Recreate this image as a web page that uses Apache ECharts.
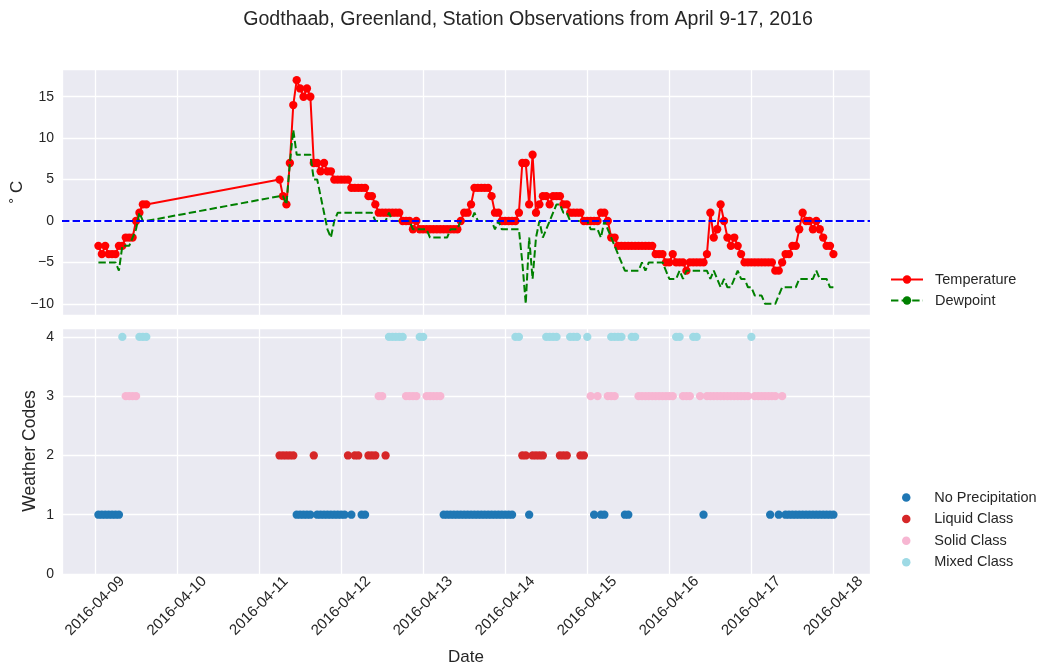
<!DOCTYPE html>
<html>
<head>
<meta charset="utf-8">
<title>Godthaab station observations</title>
<script src="https://cdn.jsdelivr.net/npm/echarts@6/dist/echarts.min.js"></script>
<style>
  html, body { margin: 0; padding: 0; background: #ffffff; }
  #chart { width: 1038px; height: 666px; }
</style>
</head>
<body>
<div id="chart"></div>
<script>
// observation blocks: [first hour, last hour] counted from 2016-04-09 00:00 UTC, hourly reports
const hourBlocks = [[1, 15], [54, 216]];

// air temperature, deg C
const temperature = [
  -3, -4, -3, -4, -4, -4, -3, -3, -2, -2, -2, 0, 1, 2, 2,
  5, 3, 2, 7, 14, 17, 16, 15, 16, 15,
  7, 7, 6, 7, 6, 6, 5, 5, 5, 5,
  5, 4, 4, 4, 4, 4, 3, 3, 2, 1,
  1, 1, 1, 1, 1, 1, 0, 0, 0, -1,
  0, -1, -1, -1, -1, -1, -1, -1, -1, -1,
  -1, -1, -1, 0, 1, 1, 2, 4, 4, 4,
  4, 4, 3, 1, 1, 0, 0, 0, 0, 0,
  1, 7, 7, 2, 8, 1, 2, 3, 3, 2,
  3, 3, 3, 2, 2, 1, 1, 1, 1, 0,
  0, 0, 0, 0, 1, 1, 0, -2, -2, -3,
  -3, -3, -3, -3, -3, -3, -3, -3, -3, -3,
  -4, -4, -4, -5, -5, -4, -5, -5, -5, -6,
  -5, -5, -5, -5, -5, -4, 1, -2, -1, 2,
  0, -2, -3, -2, -3, -4, -5, -5, -5, -5,
  -5, -5, -5, -5, -5, -6, -6, -5, -4, -4,
  -3, -3, -1, 1, 0, 0, -1, 0, -1, -2,
  -3, -3, -4
];

// dewpoint, deg C
const dewpoint = [
  -5, -5, -5, -5, -5, -5, -6, -3, -3, -3, -2, -1, 1, 0, 0,
  3, 3, 2, 7, 11, 8, 8, 8, 8, 8,
  5, 5, 3, 1, -1, -2, 0, 1, 1, 1,
  1, 1, 1, 1, 1, 1, 1, 1, 0, 0,
  0, 0, 1, 0, 0, 0, 0, 0, 0, -1,
  -1, -1, -1, -1, -2, -2, -2, -2, -2, -2,
  -1, -1, -1, 0, 0, 0, 0, 1, 0, 0,
  0, 0, 0, -1, 0, -1, -1, -1, -1, -1,
  -1, -5, -10, -2, -7, -2, 0, -2, -1, 0,
  1, 2, 2, 1, 1, 0, 0, 0, 0, 0,
  0, -1, -1, -1, -2, 0, -1, -2, -3, -4,
  -5, -6, -6, -6, -6, -6, -5, -6, -5, -5,
  -5, -5, -5, -6, -7, -7, -7, -6, -7, -6,
  -6, -6, -6, -6, -6, -6, -7, -6, -7, -8,
  -7, -8, -8, -7, -6, -7, -7, -8, -8, -9,
  -9, -9, -10, -10, -10, -10, -9, -8, -8, -8,
  -8, -8, -7, -7, -7, -7, -7, -6, -7, -7,
  -7, -8, -8
];

// report hours (from 2016-04-09 00:00) for each present-weather class
const noPrecipHours = [
  1, 2, 3, 4, 5, 6, 7,
  59, 60, 61, 62, 63, 65, 66, 67, 68, 69, 70, 71, 72, 73, 75, 78, 79,
  102, 103, 104, 105, 106, 107, 108, 109, 110, 111, 112, 113, 114, 115, 116, 117, 118, 119, 120, 121, 122,
  127, 146, 148, 149, 155, 156, 178, 197.5, 200,
  202, 203, 204, 205, 206, 207, 208, 209, 210, 211, 212, 213, 214, 215, 216
];
const liquidHours = [
  54, 55, 56, 57, 58, 64, 74, 76, 77, 80, 81, 82, 85,
  125, 126, 128, 129, 130, 131, 136, 137, 138, 142, 143
];
const solidHours = [
  9, 10, 11, 12, 83, 84, 91, 92, 93, 94, 97, 98, 99, 100, 101,
  145, 147, 150, 151, 152,
  159, 160, 161, 162, 163, 164, 165, 166, 167, 168, 169, 172, 173, 174, 177,
  179, 180, 181, 182, 183, 184, 185, 186, 187, 188, 189, 190, 191,
  193, 194, 195, 196, 197, 198, 199, 201
];
const mixedHours = [
  8, 13, 14, 15, 86, 87, 88, 89, 90, 95, 96, 123, 124,
  132, 133, 134, 135, 139, 140, 141, 144, 151, 152, 153, 154, 157, 158,
  170, 171, 175, 176, 192
];

const codeNames = ['No Precipitation', 'Liquid Class', 'Solid Class', 'Mixed Class'];
const codeHours = [noPrecipHours, liquidHours, solidHours, mixedHours];
const codeColors = ['#1f77b4', '#d62728', '#f7b6d2', '#9edae5'];

const HOUR = 3600 * 1000;
const DAY = 24 * HOUR;
const t0 = Date.UTC(2016, 3, 9);

const obsTimes = [];
hourBlocks.forEach(([a, b]) => {
  for (let h = a; h <= b; h++) obsTimes.push(t0 + h * HOUR);
});

const tempData = obsTimes.map((t, i) => [t, temperature[i]]);
const dewData = obsTimes.map((t, i) => [t, dewpoint[i]]);

const xMin = t0 - 9.65 * HOUR;
const xMax = t0 + 226.7 * HOUR;

const ink = '#262626';
const font = 'Liberation Sans, Arial, sans-serif';

function dateLabel(v) {
  if ((v - t0) % DAY !== 0) return '';
  const d = new Date(v);
  const p = n => String(n).padStart(2, '0');
  return d.getUTCFullYear() + '-' + p(d.getUTCMonth() + 1) + '-' + p(d.getUTCDate());
}

function minusSign(v) {
  return String(v).replace('-', '\u2212');
}

const xBase = {
  type: 'time',
  min: xMin,
  max: xMax,
  minInterval: DAY,
  maxInterval: DAY,
  axisLine: { show: false },
  axisTick: { show: false },
  splitLine: { show: true, lineStyle: { color: '#ffffff', width: 1.3 } }
};

const legendText = {
  fontFamily: font,
  fontSize: 14.5,
  lineHeight: 15,
  color: ink,
  padding: [0, 0, 0, 7],
  width: 60,
  overflow: 'none'
};

const scatterSeries = codeNames.map((name, k) => ({
  name: name,
  type: 'scatter',
  xAxisIndex: 1,
  yAxisIndex: 1,
  symbolSize: 8.3,
  itemStyle: { color: codeColors[k], opacity: 1 },
  data: codeHours[k].map(h => [t0 + h * HOUR, k + 1])
}));

const chart = echarts.init(document.getElementById('chart'), null, { renderer: 'canvas' });

chart.setOption({
  animation: false,
  useUTC: true,
  backgroundColor: '#ffffff',
  textStyle: { fontFamily: font, color: ink },
  title: {
    text: 'Godthaab, Greenland, Station Observations from April 9-17, 2016',
    left: 523,
    top: 5,
    textAlign: 'center',
    textStyle: { fontFamily: font, fontSize: 19.6, fontWeight: 'normal', color: ink }
  },
  legend: [
    {
      data: ['Temperature', 'Dewpoint'],
      orient: 'vertical',
      left: 890,
      top: 272,
      padding: 0,
      itemWidth: 32,
      itemHeight: 10.5,
      itemGap: 6,
      textStyle: legendText
    },
    {
      data: codeNames,
      orient: 'vertical',
      left: 902,
      top: 490,
      padding: 0,
      icon: 'circle',
      itemWidth: 32,
      itemHeight: 8.5,
      itemGap: 6.6,
      textStyle: legendText
    }
  ],
  grid: [
    { left: 62, right: 168, top: 69, height: 246, show: true, backgroundColor: '#EAEAF2', borderWidth: 0, outerBoundsMode: 'none', containLabel: false },
    { left: 62, right: 168, top: 328, height: 246, show: true, backgroundColor: '#EAEAF2', borderWidth: 0, outerBoundsMode: 'none', containLabel: false }
  ],
  xAxis: [
    Object.assign({ gridIndex: 0, axisLabel: { show: false } }, xBase),
    Object.assign({
      gridIndex: 1,
      name: 'Date',
      nameLocation: 'middle',
      nameGap: 74.5,
      nameMoveOverlap: false,
      nameTextStyle: { fontFamily: font, fontSize: 17, color: ink },
      axisLabel: {
        rotate: 45,
        align: 'center',
        verticalAlign: 'middle',
        margin: 32,
        fontSize: 15,
        color: ink,
        showMinLabel: false,
        showMaxLabel: false,
        formatter: dateLabel
      }
    }, xBase)
  ],
  yAxis: [
    {
      gridIndex: 0,
      type: 'value',
      min: -11.35,
      max: 18.35,
      name: '\u02da C',
      nameLocation: 'middle',
      nameRotate: 90,
      nameGap: 36,
      nameMoveOverlap: false,
      nameTextStyle: { fontFamily: font, fontSize: 17, color: ink },
      axisLine: { show: false },
      axisTick: { show: false },
      splitLine: { lineStyle: { color: '#ffffff', width: 1.3 } },
      axisLabel: {
        margin: 8,
        fontSize: 14,
        color: ink,
        formatter: v => (Math.abs(v % 5) < 1e-9 ? minusSign(v) : '')
      }
    },
    {
      gridIndex: 1,
      type: 'value',
      min: 0,
      max: 4.15,
      interval: 1,
      name: 'Weather Codes',
      nameLocation: 'middle',
      nameRotate: 90,
      nameGap: 23,
      nameMoveOverlap: false,
      nameTextStyle: { fontFamily: font, fontSize: 17.5, color: ink },
      axisLine: { show: false },
      axisTick: { show: false },
      splitLine: { lineStyle: { color: '#ffffff', width: 1.3 } },
      axisLabel: {
        margin: 8,
        fontSize: 14,
        color: ink,
        formatter: v => (Number.isInteger(v) ? String(v) : '')
      }
    }
  ],
  series: [
    {
      name: 'Temperature',
      type: 'line',
      xAxisIndex: 0,
      yAxisIndex: 0,
      z: 2,
      symbol: 'circle',
      symbolSize: 8.3,
      showAllSymbol: true,
      itemStyle: { color: '#ff0000' },
      lineStyle: { color: '#ff0000', width: 2 },
      data: tempData
    },
    {
      name: 'Dewpoint',
      type: 'line',
      xAxisIndex: 0,
      yAxisIndex: 0,
      z: 3,
      symbol: 'none',
      itemStyle: { color: '#008000' },
      lineStyle: { color: '#008000', width: 2, type: [7.4, 3.2] },
      data: dewData,
      markLine: {
        silent: true,
        symbol: 'none',
        label: { show: false },
        lineStyle: { color: '#0000ff', width: 2, type: [7.4, 3.2] },
        data: [{ yAxis: 0 }]
      }
    }
  ].concat(scatterSeries)
});
</script>
</body>
</html>
